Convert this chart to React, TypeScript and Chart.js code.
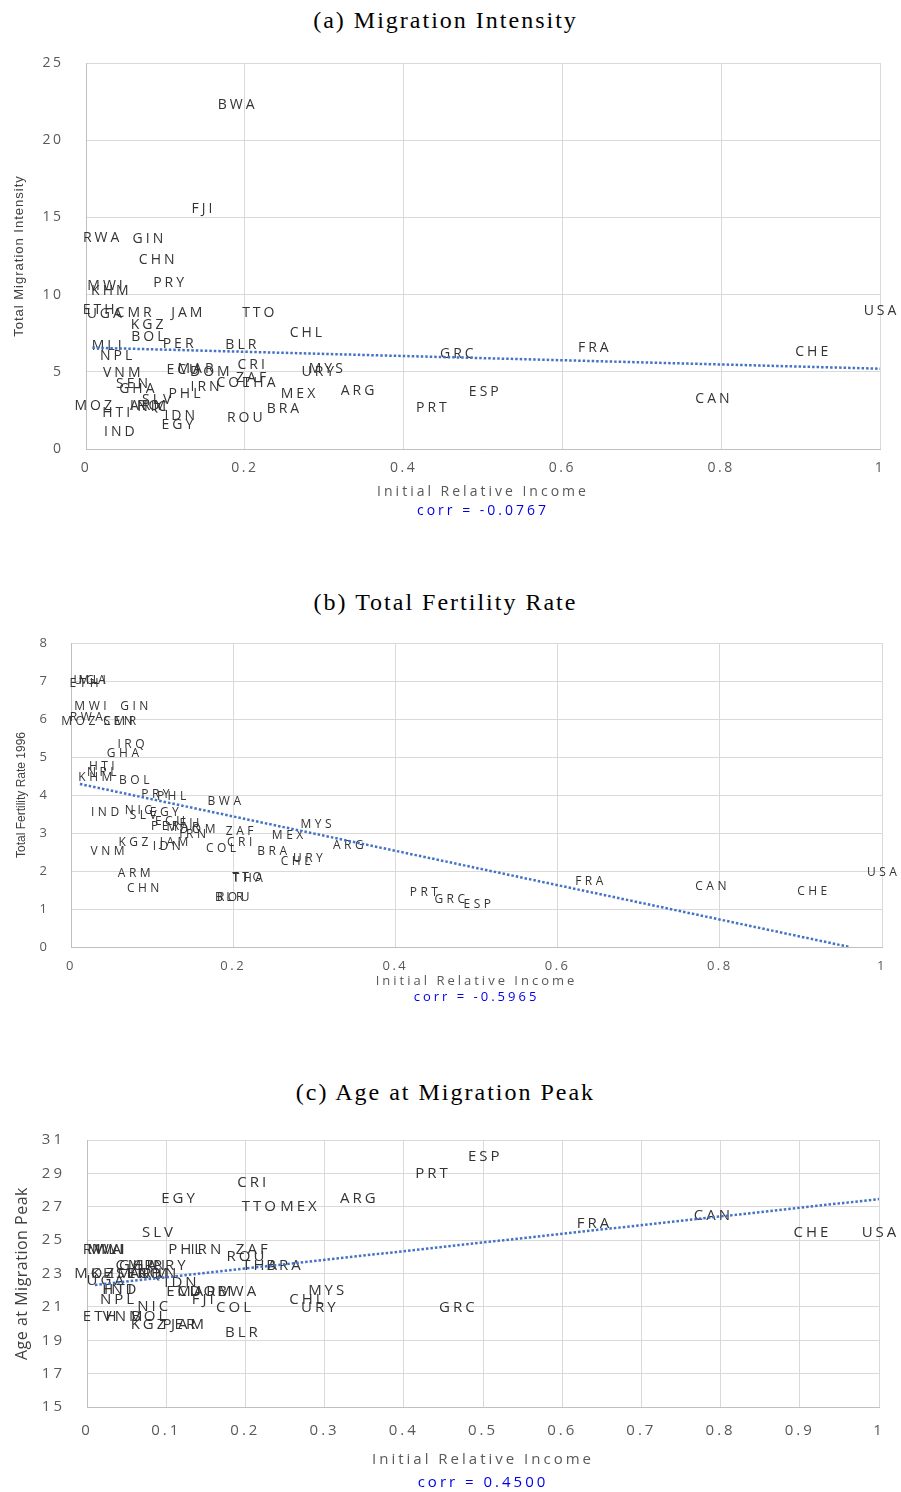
import React, { useEffect, useRef } from 'react';
import { Chart, registerables } from 'chart.js';

Chart.register(...registerables);

// ---------- data ----------
const countries = ['ARG','ARM','BLR','BOL','BRA','BWA','CAN','CHE','CHL','CHN','CMR','COL','CRI','DOM','ECU','EGY','ESP','ETH','FJI','FRA','GHA','GIN','GRC','HTI','IDN','IND','IRN','IRQ','JAM','KGZ','KHM','MAR','MEX','MLI','MOZ','MWI','MYS','NIC','NPL','PER','PHL','PRT','PRY','ROU','RWA','SEN','SLV','THA','TTO','UGA','URY','USA','VNM','ZAF'];

const initialRelativeIncome = [0.342,0.078,0.195,0.078,0.248,0.189,0.789,0.914,0.277,0.089,0.06,0.185,0.208,0.156,0.122,0.115,0.501,0.016,0.146,0.639,0.064,0.078,0.467,0.038,0.118,0.042,0.15,0.074,0.127,0.077,0.03,0.138,0.267,0.026,0.009,0.024,0.302,0.083,0.038,0.116,0.124,0.435,0.104,0.2,0.019,0.058,0.089,0.218,0.217,0.023,0.292,1.0,0.045,0.208];

const migrationIntensity = [3.76,2.78,6.74,7.25,2.59,22.28,3.24,6.28,7.51,12.24,8.8,4.27,5.44,4.99,5.12,1.55,3.69,9.0,15.54,6.54,3.89,13.6,6.15,2.33,2.14,1.1,4.02,2.8,8.8,8.03,10.23,5.18,3.56,6.67,2.78,10.56,5.18,2.75,6.02,6.8,3.56,2.66,10.75,2.0,13.67,4.2,3.17,4.27,8.8,8.74,4.99,8.94,4.92,4.6];

const fertilityRate1996 = [2.68,1.92,1.29,4.39,2.5,3.82,1.58,1.47,2.24,1.53,5.92,2.58,2.74,3.08,3.29,3.53,1.11,6.92,3.24,1.71,5.08,6.34,1.24,4.76,2.63,3.55,2.95,5.32,2.74,2.76,4.47,3.13,2.92,7.0,5.92,6.34,3.21,3.58,4.6,3.18,3.95,1.42,4.0,1.29,6.03,5.92,3.45,1.79,1.84,7.0,2.34,1.95,2.5,3.03];

const ageAtPeak = [27.46,23.0,19.43,20.39,23.45,21.89,26.44,25.43,21.41,23.0,23.45,20.93,28.42,21.89,21.89,27.46,29.98,20.39,21.41,25.96,23.45,23.45,20.93,22.0,22.43,22.0,24.41,23.0,19.91,19.91,23.0,21.89,26.98,24.41,23.0,24.41,21.95,20.99,21.4,19.91,24.41,28.96,23.45,23.99,24.41,23.0,25.43,23.45,26.98,22.55,20.93,25.43,20.39,24.41];

// trend lines (end points)
const trendAX = [0.008, 1];
const trendAY = [6.56, 5.2];
const trendBX = [0.011, 0.96];
const trendBY = [4.29, 0];
const trendCX = [0.01, 1];
const trendCY = [22.31, 27.46];

// ticks
const xTicksAB = [0, 0.2, 0.4, 0.6, 0.8, 1];
const xTickLabelsAB = ['0', '0.2', '0.4', '0.6', '0.8', '1'];
const xTicksC = [0, 0.1, 0.2, 0.3, 0.4, 0.5, 0.6, 0.7, 0.8, 0.9, 1];
const xTickLabelsC = ['0', '0.1', '0.2', '0.3', '0.4', '0.5', '0.6', '0.7', '0.8', '0.9', '1'];
const yTicksA = [0, 5, 10, 15, 20, 25];
const yTicksB = [0, 1, 2, 3, 4, 5, 6, 7, 8];
const yTicksC = [15, 17, 19, 21, 23, 25, 27, 29, 31];

const panelTitles = ['(a) Migration Intensity', '(b) Total Fertility Rate', '(c) Age at Migration Peak'];
const yTitles = ['Total Migration Intensity', 'Total Fertility Rate 1996', 'Age at Migration Peak'];
const corrTexts = ['corr = -0.0767', 'corr = -0.5965', 'corr = 0.4500'];
const xTitle = 'Initial Relative Income';

// ---------- plugins ----------
function patch(scale: any, name: string, px: number) {
  const orig = scale[name];
  scale[name] = function (...args: any[]) {
    const c = this.ctx;
    const prev = c.letterSpacing;
    c.letterSpacing = px + 'px';
    orig.apply(this, args);
    c.letterSpacing = prev;
  };
}

const spacingPlugin = {
  id: 'spacing',
  beforeUpdate(chart: any, _a: any, opts: any) {
    chart.ctx.letterSpacing = opts.px + 'px';
  },
  afterLayout(chart: any, _a: any, opts: any) {
    const { x, y } = chart.scales;
    if (x && !x._patched) {
      patch(x, 'drawLabels', opts.tickPx);
      patch(x, 'drawTitle', opts.px);
      x._patched = true;
    }
    if (y && !y._patched) {
      patch(y, 'drawLabels', opts.tickPx);
      patch(y, 'drawTitle', opts.yTitlePx);
      y._patched = true;
    }
  },
  beforeDraw(chart: any, _a: any, opts: any) {
    chart.ctx.letterSpacing = opts.px + 'px';
  },
};

const labelPlugin = {
  id: 'countryLabels',
  beforeDatasetsDraw(chart: any, _a: any, opts: any) {
    const meta = chart.getDatasetMeta(0);
    const ctx = chart.ctx;
    ctx.save();
    ctx.font = `${opts.size}px 'Open Sans', sans-serif`;
    ctx.letterSpacing = opts.spacing + 'px';
    ctx.fillStyle = '#333333';
    ctx.textAlign = 'center';
    ctx.textBaseline = 'middle';
    meta.data.forEach((pt: any, i: number) => {
      ctx.fillText(countries[i], pt.x + opts.spacing / 2, pt.y);
    });
    ctx.restore();
  },
};

type Cfg = {
  idx: number;
  titleCenter: number;
  plotTop: number;
  canvasBottom: number;
  values: number[];
  trendX: number[];
  trendY: number[];
  xTicks: number[];
  xTickLabels: string[];
  yTicks: number[];
  padRight: number;
  yAxisWidth: number;
  xAxisHeight: number;
  labelSize: number;
  labelSpacing: number;
  tickSize: number;
  tickSpacing: number;
  xTickPad: number;
  yTickPad: number;
  xTitleSize: number;
  xTitlePadBottom: number;
  yTitleSize: number;
  yTitleSpacing: number;
  yTitlePadTop: number;
  corrSize: number;
  corrPadBottom: number;
};

const SANS = "'Open Sans', sans-serif";
const YSANS = "'Liberation Sans Narrow', 'Liberation Sans', sans-serif";
const TOP_PAD = 32;

const panels: Cfg[] = [
  {
    idx: 0, titleCenter: 20, plotTop: 63, canvasBottom: 525,
    values: migrationIntensity, trendX: trendAX, trendY: trendAY,
    xTicks: xTicksAB, xTickLabels: xTickLabelsAB, yTicks: yTicksA,
    padRight: 21, yAxisWidth: 86, xAxisHeight: 53.6,
    labelSize: 14, labelSpacing: 3, tickSize: 14, tickSpacing: 2.5, xTickPad: 10.6, yTickPad: 22.5,
    xTitleSize: 14, xTitlePadBottom: 2.2,
    yTitleSize: 13, yTitleSpacing: 1, yTitlePadTop: 12,
    corrSize: 14, corrPadBottom: 5.6,
  },
  {
    idx: 1, titleCenter: 602, plotTop: 643, canvasBottom: 1010,
    values: fertilityRate1996, trendX: trendBX, trendY: trendBY,
    xTicks: xTicksAB, xTickLabels: xTickLabelsAB, yTicks: yTicksB,
    padRight: 19, yAxisWidth: 71, xAxisHeight: 42.2,
    labelSize: 12, labelSpacing: 3.5, tickSize: 13, tickSpacing: 2.5, xTickPad: 11.2, yTickPad: 21.5,
    xTitleSize: 13, xTitlePadBottom: 0,
    yTitleSize: 12, yTitleSpacing: 0, yTitlePadTop: 14.8,
    corrSize: 13, corrPadBottom: 5.2,
  },
  {
    idx: 2, titleCenter: 1092, plotTop: 1140, canvasBottom: 1492,
    values: ageAtPeak, trendX: trendCX, trendY: trendCY,
    xTicks: xTicksC, xTickLabels: xTickLabelsC, yTicks: yTicksC,
    padRight: 22, yAxisWidth: 87, xAxisHeight: 67,
    labelSize: 15, labelSpacing: 3, tickSize: 15, tickSpacing: 3, xTickPad: 15, yTickPad: 22,
    xTitleSize: 15, xTitlePadBottom: 5,
    yTitleSize: 16, yTitleSpacing: 0.5, yTitlePadTop: 12.5,
    corrSize: 15, corrPadBottom: 0,
  },
];

function Panel({ cfg }: { cfg: Cfg }) {
  const ref = useRef<HTMLCanvasElement | null>(null);
  const canvasTop = cfg.plotTop - TOP_PAD;
  const canvasHeight = cfg.canvasBottom - canvasTop;
  useEffect(() => {
    const canvas = ref.current;
    if (!canvas) return;
    const yMin = cfg.yTicks[0];
    const yMax = cfg.yTicks[cfg.yTicks.length - 1];
    const chart = new Chart(canvas, {
      type: 'scatter',
      data: {
        datasets: [
          {
            type: 'scatter',
            data: initialRelativeIncome.map((x, i) => ({ x, y: cfg.values[i] })),
            pointRadius: 0,
            pointHoverRadius: 0,
            showLine: false,
          } as any,
          {
            type: 'line',
            data: cfg.trendX.map((x, i) => ({ x, y: cfg.trendY[i] })),
            borderColor: '#4472C4',
            borderWidth: 2.5,
            borderDash: [2.5, 2],
            pointRadius: 0,
            fill: false,
            tension: 0,
          } as any,
        ],
      },
      options: {
        responsive: false,
        animation: false,
        devicePixelRatio: 1,
        events: [],
        layout: { padding: { top: TOP_PAD, right: cfg.padRight, left: 0, bottom: 0 } },
        plugins: {
          legend: { display: false },
          tooltip: { enabled: false },
          title: {
            display: true,
            position: 'bottom',
            fullSize: false,
            text: corrTexts[cfg.idx],
            color: '#0000E6',
            font: { family: SANS, size: cfg.corrSize, weight: 'normal' },
            padding: { top: 0, bottom: cfg.corrPadBottom },
          },
          countryLabels: { size: cfg.labelSize, spacing: cfg.labelSpacing },
          spacing: { px: 3, tickPx: cfg.tickSpacing, yTitlePx: cfg.yTitleSpacing },
        } as any,
        scales: {
          x: {
            type: 'linear',
            min: 0,
            max: 1,
            afterBuildTicks: (s: any) => {
              s.ticks = cfg.xTicks.map((v) => ({ value: v }));
            },
            afterFit: (s: any) => {
              s.height = cfg.xAxisHeight;
            },
            grid: { color: '#d9d9d9', lineWidth: 1, drawTicks: false },
            border: { color: '#bfbfbf' },
            ticks: {
              color: '#595959',
              font: { family: SANS, size: cfg.tickSize },
              padding: cfg.xTickPad,
              maxRotation: 0,
              autoSkip: false,
              callback: (_v: any, i: number) => cfg.xTickLabels[i],
            },
            title: {
              display: true,
              text: xTitle,
              color: '#595959',
              font: { family: SANS, size: cfg.xTitleSize },
              padding: { top: 0, bottom: cfg.xTitlePadBottom },
            },
          },
          y: {
            type: 'linear',
            min: yMin,
            max: yMax,
            afterBuildTicks: (s: any) => {
              s.ticks = cfg.yTicks.map((v) => ({ value: v }));
            },
            afterFit: (s: any) => {
              s.width = cfg.yAxisWidth;
            },
            grid: { color: '#d9d9d9', lineWidth: 1, drawTicks: false },
            border: { color: '#bfbfbf' },
            ticks: {
              color: '#595959',
              font: { family: SANS, size: cfg.tickSize },
              padding: cfg.yTickPad,
              autoSkip: false,
              callback: (v: any) => String(v),
            },
            title: {
              display: true,
              text: yTitles[cfg.idx],
              color: '#404040',
              font: { family: cfg.idx === 2 ? SANS : YSANS, size: cfg.yTitleSize },
              padding: { top: cfg.yTitlePadTop, bottom: 0 },
            },
          },
        },
      } as any,
      plugins: [spacingPlugin as any, labelPlugin as any],
    });
    return () => chart.destroy();
  }, [cfg]);

  return (
    <>
      <div
        style={{
          position: 'absolute',
          left: 0,
          width: 891,
          top: cfg.titleCenter - 16,
          height: 32,
          lineHeight: '32px',
          textAlign: 'center',
          fontFamily: "'Liberation Serif', 'DejaVu Serif', serif",
          fontSize: 24,
          letterSpacing: '2px',
          color: '#000',
          whiteSpace: 'nowrap',
        }}
      >
        {panelTitles[cfg.idx]}
      </div>
      <canvas
        ref={ref}
        width={901}
        height={canvasHeight}
        style={{ position: 'absolute', left: 0, top: canvasTop, width: 901, height: canvasHeight, display: 'block' }}
      />
    </>
  );
}

export default function App() {
  useEffect(() => {
    document.body.style.margin = '0';
    document.body.style.background = '#fff';
  }, []);
  return (
    <div style={{ position: 'relative', width: 901, height: 1492, background: '#fff', overflow: 'hidden' }}>
      {panels.map((p) => (
        <Panel key={p.idx} cfg={p} />
      ))}
    </div>
  );
}
